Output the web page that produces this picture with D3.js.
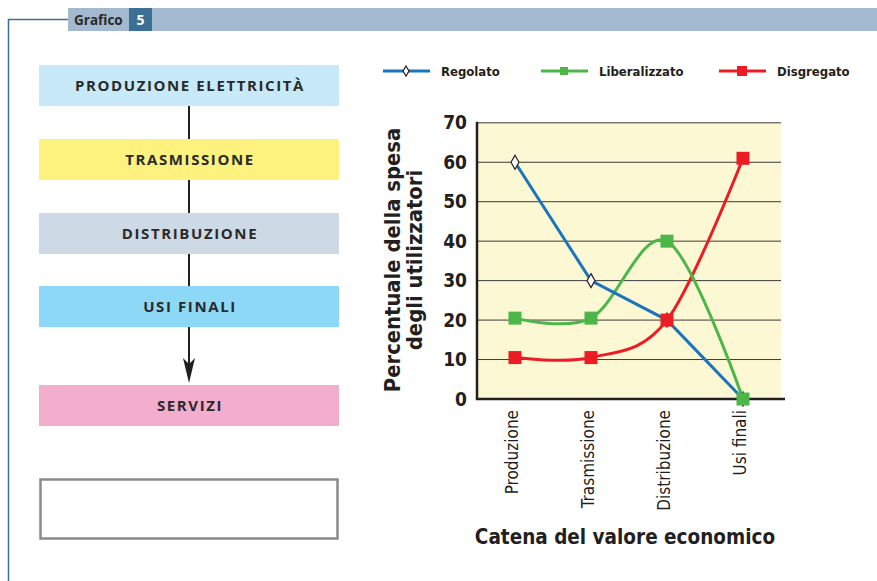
<!DOCTYPE html>
<html>
  <head>
    <title>Grafico 5</title>
    <script src="https://cdn.jsdelivr.net/npm/d3@7"></script>
    <style>
      body { margin: 0; background: #fff; }
    </style>
  </head>
  <body>
    <svg width="877" height="581" id="mainsvg"></svg>
    <script>
      const categories = ['Produzione', 'Trasmissione', 'Distribuzione', 'Usi finali'];
      const regolato = [60, 30, 20, 0];
      const liberalizzato = [20.5, 20.5, 40, 0];
      const disgregato = [10.5, 10.5, 20, 61];
      const yTicks = [0, 10, 20, 30, 40, 50, 60, 70];
      const flowSteps = ['PRODUZIONE ELETTRICITÀ', 'TRASMISSIONE', 'DISTRIBUZIONE', 'USI FINALI', 'SERVIZI'];
      const flowColors = ['#c8e9f8', '#fdf27e', '#cddae5', '#8cd8f6', '#f3aecd'];

      const svg = d3.select('#mainsvg');
      const font = '"DejaVu Sans Condensed", sans-serif';

      // header strip
      svg.append('rect').attr('x', 68).attr('y', 8).attr('width', 809).attr('height', 23).attr('fill', '#a3b9d0');
      svg.append('rect').attr('x', 129).attr('y', 8).attr('width', 23).attr('height', 23).attr('fill', '#3a6f96');
      svg.append('text').attr('x', 74).attr('y', 24.5).text('Grafico')
        .attr('font-family', 'Open Sans, sans-serif').attr('font-weight', 'bold').attr('font-size', 13.5).attr('fill', '#2a2a2a');
      svg.append('text').attr('x', 140.5).attr('y', 25).text('5').attr('text-anchor', 'middle')
        .attr('font-family', 'Open Sans, sans-serif').attr('font-weight', 'bold').attr('font-size', 14).attr('fill', '#fff');
      svg.append('path').attr('d', 'M68,19.5H8.5V581').attr('fill', 'none').attr('stroke', '#3a6f96').attr('stroke-width', 1.5);

      // flow chart on the left
      const flowY = d3.scaleOrdinal().domain(flowSteps).range([65, 139, 213, 286, 385]);
      const boxH = 41;
      const fg = svg.append('g');
      // connectors
      for (let i = 0; i < flowSteps.length - 1; i++) {
        const y1 = flowY(flowSteps[i]) + boxH;
        const y2 = flowY(flowSteps[i + 1]);
        fg.append('line').attr('x1', 189).attr('x2', 189).attr('y1', y1).attr('y2', i === 3 ? y2 - 8 : y2)
          .attr('stroke', '#231f20').attr('stroke-width', 2);
      }
      fg.append('path').attr('d', 'M183,358L189,364L195,358L189,383Z').attr('fill', '#231f20');
      fg.selectAll('rect.flow').data(flowSteps).join('rect').attr('class', 'flow')
        .attr('x', 39).attr('width', 300).attr('y', d => flowY(d)).attr('height', boxH)
        .attr('fill', (d, i) => flowColors[i]);
      fg.selectAll('text.flow').data(flowSteps).join('text').attr('class', 'flow')
        .attr('x', 190).attr('y', d => flowY(d) + 26).attr('text-anchor', 'middle')
        .attr('font-family', 'Open Sans, sans-serif').attr('font-weight', 'bold').attr('font-size', 15)
        .attr('letter-spacing', 1.6).attr('fill', '#2a2a2a').text(d => d);
      fg.append('rect').attr('x', 40.5).attr('y', 479.5).attr('width', 297).attr('height', 59)
        .attr('fill', '#fff').attr('stroke', '#888a8c').attr('stroke-width', 2.5);

      // line chart
      const pLeft = 477, pRight = 781, pTop = 122.8, pBottom = 399;
      const x = d3.scaleBand().domain(categories).range([pLeft, pRight]);
      const xc = d => x(d) + x.bandwidth() / 2;
      const y = d3.scaleLinear().domain([0, 70]).range([pBottom, pTop]);

      svg.append('rect').attr('x', pLeft).attr('y', pTop).attr('width', pRight - pLeft).attr('height', pBottom - pTop).attr('fill', '#fdf8d4');
      svg.append('g').selectAll('line').data(yTicks.filter(t => t > 0)).join('line')
        .attr('x1', pLeft).attr('x2', pRight).attr('y1', d => y(d)).attr('y2', d => y(d))
        .attr('stroke', '#3a3a3a').attr('stroke-width', 1);

      const yAxis = svg.append('g').attr('transform', `translate(${pLeft},0)`)
        .call(d3.axisLeft(y).tickValues(yTicks).tickSize(0).tickPadding(10));
      yAxis.select('.domain').remove();
      yAxis.selectAll('text').attr('font-family', font).attr('font-weight', 'bold').attr('font-size', 19).attr('fill', '#231f20');
      svg.append('line').attr('x1', pLeft).attr('x2', pLeft).attr('y1', pTop - 1).attr('y2', pBottom + 1)
        .attr('stroke', '#231f20').attr('stroke-width', 2.5);

      const xAxis = svg.append('g').attr('transform', `translate(0,${pBottom})`)
        .call(d3.axisBottom(x).tickSize(0));
      xAxis.select('.domain').remove();
      xAxis.selectAll('text').attr('transform', 'rotate(-90)').attr('text-anchor', 'end')
        .attr('x', -11).attr('y', -3).attr('dy', '0.35em')
        .attr('font-family', font).attr('font-size', 17).attr('fill', '#231f20');
      svg.append('line').attr('x1', pLeft - 1).attr('x2', 785).attr('y1', pBottom).attr('y2', pBottom)
        .attr('stroke', '#231f20').attr('stroke-width', 2.5);

      svg.append('text').attr('transform', 'translate(400,260) rotate(-90)').attr('text-anchor', 'middle')
        .attr('font-family', font).attr('font-weight', 'bold').attr('font-size', 21.8).attr('fill', '#231f20')
        .text('Percentuale della spesa');
      svg.append('text').attr('transform', 'translate(422,260) rotate(-90)').attr('text-anchor', 'middle')
        .attr('font-family', font).attr('font-weight', 'bold').attr('font-size', 21.8).attr('fill', '#231f20')
        .text('degli utilizzatori');
      svg.append('text').attr('x', 625).attr('y', 544).attr('text-anchor', 'middle')
        .attr('font-family', font).attr('font-weight', 'bold').attr('font-size', 20.5).attr('fill', '#231f20')
        .text('Catena del valore economico');

      const smooth = d3.curveCardinal.tension(0);
      const series = [
        {name: 'Regolato', values: regolato, color: '#1b75bb', curve: d3.curveLinear, marker: 'diamond'},
        {name: 'Liberalizzato', values: liberalizzato, color: '#4cb748', curve: smooth, marker: 'square'},
        {name: 'Disgregato', values: disgregato, color: '#ec1c24', curve: smooth, marker: 'square'}
      ];

      const diamond = 'M0,-7L4,0L0,7L-4,0Z';
      const drawMarker = (g, s, cx, cy) => {
        if (s.marker === 'diamond') {
          g.append('path').attr('d', diamond).attr('transform', `translate(${cx},${cy})`)
            .attr('fill', '#fff').attr('stroke', '#231f20').attr('stroke-width', 1.2);
        } else {
          g.append('rect').attr('x', cx - 6.5).attr('y', cy - 6.5).attr('width', 13).attr('height', 13).attr('fill', s.color);
        }
      };

      const chart = svg.append('g');
      series.slice().reverse().forEach(s => {
        const line = d3.line().x((d, i) => xc(categories[i])).y(d => y(d)).curve(s.curve);
        chart.append('path').datum(s.values).attr('d', line).attr('fill', 'none')
          .attr('stroke', s.color).attr('stroke-width', 3);
      });
      series.forEach(s => {
        s.values.forEach((v, i) => drawMarker(chart, s, xc(categories[i]), y(v)));
      });

      // legend
      const legendX = [383, 541, 719];
      const lg = svg.append('g');
      series.forEach((s, i) => {
        const lx = legendX[i];
        lg.append('line').attr('x1', lx).attr('x2', lx + 47).attr('y1', 71).attr('y2', 71)
          .attr('stroke', s.color).attr('stroke-width', 3);
        if (s.marker === 'diamond') {
          lg.append('path').attr('d', 'M0,-5L3,0L0,5L-3,0Z').attr('transform', `translate(${lx + 23},71)`)
            .attr('fill', '#fff').attr('stroke', '#231f20').attr('stroke-width', 1.2);
        } else {
          const sz = i === 1 ? 8 : 10;
          lg.append('rect').attr('x', lx + 23 - sz / 2).attr('y', 71 - sz / 2).attr('width', sz).attr('height', sz).attr('fill', s.color);
        }
        lg.append('text').attr('x', lx + 58).attr('y', 76).text(s.name)
          .attr('font-family', font).attr('font-weight', 'bold').attr('font-size', 13).attr('fill', '#231f20');
      });
    </script>
  </body>
</html>
